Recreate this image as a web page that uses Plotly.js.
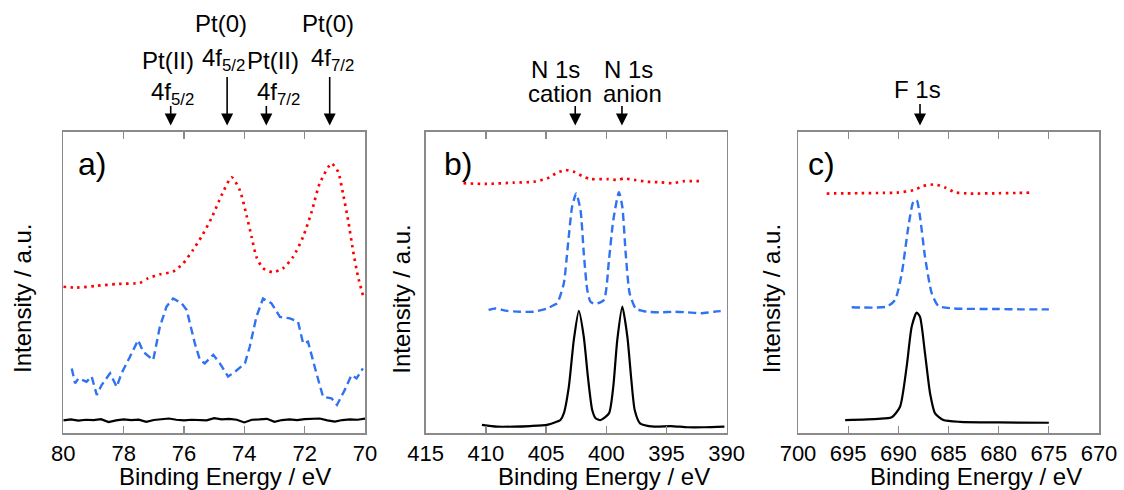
<!DOCTYPE html>
<html>
<head>
<meta charset="utf-8">
<script src="https://cdn.plot.ly/plotly-3.0.1.min.js"></script>
<style>
  html, body { margin: 0; padding: 0; background: #fff; }
  #chart { width: 1124px; height: 490px; }
</style>
</head>
<body>
<div id="chart"></div>
<script>
// ---- Pt 4f region (panel a) ----
const ptRedX = [80.0, 79.56, 78.89, 78.23, 77.46, 77.19, 76.80, 76.36, 76.03, 75.70, 75.42, 75.09, 74.75, 74.42, 74.15, 73.93, 73.76, 73.60, 73.38, 73.05, 72.72, 72.38, 72.05, 71.77, 71.50, 71.11, 70.89, 70.73, 70.56, 70.40, 70.23, 70.07];
const ptRedY = [48.6, 48.3, 48.9, 49.5, 49.9, 51.4, 52.7, 53.6, 56.3, 60.8, 65.2, 71.3, 79.0, 84.9, 80.6, 72.4, 65.2, 58.5, 54.7, 53.4, 54.7, 58.5, 65.2, 73.4, 82.9, 89.5, 86.7, 79.5, 70.7, 60.8, 51.9, 45.8];

const ptBlueX = [79.72, 79.61, 79.50, 79.23, 79.06, 78.89, 78.73, 78.45, 78.23, 78.07, 77.79, 77.52, 77.35, 77.13, 77.02, 76.80, 76.58, 76.36, 76.08, 75.91, 75.64, 75.47, 75.31, 75.03, 74.81, 74.54, 74.31, 73.98, 73.82, 73.60, 73.38, 73.10, 72.82, 72.49, 72.22, 72.05, 71.89, 71.61, 71.39, 71.11, 70.93, 70.67, 70.45, 70.28, 70.07];
const ptBlueY = [21.5, 16.6, 18.2, 17.1, 18.8, 12.7, 16.0, 19.9, 15.4, 19.9, 25.4, 30.9, 27.0, 25.4, 24.3, 35.3, 42.0, 44.7, 43.1, 40.9, 29.8, 24.3, 23.2, 26.0, 23.2, 18.8, 20.4, 23.2, 28.7, 38.6, 44.7, 43.1, 38.6, 38.1, 37.0, 29.8, 30.4, 19.9, 12.1, 11.6, 9.4, 14.4, 19.3, 18.2, 21.5];

const ptBlackX = [80, 79.75, 79.5, 79.25, 79, 78.75, 78.5, 78.25, 78, 77.75, 77.5, 77.25, 77, 76.75, 76.5, 76.25, 76, 75.75, 75.5, 75.25, 75, 74.75, 74.5, 74.25, 74, 73.75, 73.5, 73.25, 73, 72.75, 72.5, 72.25, 72, 71.75, 71.5, 71.25, 71, 70.75, 70.5, 70.25, 70];
const ptBlackY = [4.3, 4.6, 4.2, 4.5, 4.4, 4.7, 3.7, 4.3, 4.6, 4.4, 4.5, 3.8, 4.4, 4.6, 4.9, 4.5, 4.3, 4.5, 4.4, 4.3, 5.0, 4.6, 4.8, 4.5, 3.6, 4.5, 4.6, 4.8, 3.8, 4.4, 4.6, 4.4, 4.7, 4.8, 4.9, 4.3, 3.9, 4.4, 4.6, 4.5, 4.9];

// ---- N 1s region (panel b) ----
const nRedX = [411.86, 409.92, 407.69, 406.03, 404.92, 404.08, 403.39, 402.69, 402.0, 401.31, 399.92, 399.08, 398.53, 397.69, 396.58, 395.47, 394.5, 393.53, 392.14];
const nRedY = [82.9, 82.7, 83.1, 83.4, 84.5, 86.4, 87.3, 86.7, 85.3, 84.3, 84.3, 84.0, 84.5, 84.0, 83.4, 83.2, 82.9, 83.6, 83.6];

const nBlueX = [409.78, 409.22, 408.25, 407.14, 406.03, 404.92, 404.36, 404.08, 403.53, 403.2, 402.84, 402.5, 402.14, 401.87, 401.58, 401.31, 400.89, 400.2, 399.78, 399.42, 398.95, 398.67, 398.39, 398.06, 397.56, 397.0, 396.58, 395.47, 394.36, 393.25, 392.14, 391.03, 390.19];
const nBlueY = [40.9, 41.4, 40.6, 40.3, 40.3, 41.4, 42.5, 43.1, 49.7, 61.9, 75.1, 79.5, 74.0, 59.7, 47.5, 43.6, 42.9, 44.2, 57.4, 70.7, 79.9, 75.1, 59.7, 46.4, 41.4, 40.6, 40.3, 40.1, 40.3, 40.1, 39.8, 40.3, 40.6];

const nBlackX = [410.33, 409.08, 407.69, 406.31, 404.92, 404.08, 403.81, 403.53, 403.11, 402.7, 402.28, 401.87, 401.53, 401.17, 400.89, 400.47, 399.78, 399.42, 399.09, 398.67, 398.25, 397.92, 397.64, 397.2, 396.03, 394.64, 393.25, 391.86, 390.19];
const nBlackY = [2.8, 2.2, 2.2, 2.4, 2.8, 3.9, 4.4, 6.6, 15.5, 30.9, 40.6, 32.0, 18.8, 7.7, 5.0, 4.4, 6.6, 15.5, 30.9, 42.0, 32.0, 17.7, 7.7, 3.3, 2.2, 2.4, 2.0, 2.0, 2.2];

// ---- F 1s region (panel c) ----
const fRedX = [697.14, 694.0, 691.5, 690.16, 688.5, 687.51, 686.34, 685.34, 684.35, 682.85, 680.0, 678.0, 676.8];
const fRedY = [79.5, 79.6, 79.7, 79.8, 80.6, 82.0, 82.5, 81.5, 79.9, 79.5, 79.6, 79.7, 79.8];

const fBlueX = [694.65, 691.16, 690.33, 689.66, 689.0, 688.5, 688.17, 687.84, 687.34, 686.67, 686.01, 684.52, 680.0, 677.87, 675.0];
const fBlueY = [41.8, 42.0, 44.2, 53.0, 68.5, 76.8, 77.3, 71.8, 58.5, 46.4, 42.2, 41.4, 41.2, 41.1, 41.1];

const fBlackX = [695.3, 692.0, 690.66, 689.83, 689.17, 688.67, 688.17, 687.84, 687.34, 686.84, 686.34, 685.51, 683.85, 680.0, 675.0];
const fBlackY = [4.4, 4.8, 5.3, 8.8, 22.1, 35.3, 40.0, 38.6, 26.5, 13.3, 6.6, 4.4, 3.8, 3.6, 3.5];

// ---- peak markers and labels ----
const ptPeaks = [76.44, 74.57, 73.27, 71.17];
const ptArrowLen = [21, 50, 21, 50];
const nPeaks = [402.58, 398.7];
const fPeaks = [687.84];

const FONT = 'Liberation Sans, Arial, sans-serif';
const W = 1124, H = 490;
const px = v => v / W;
const py = v => 1 - v / H;

const RED = {color: '#ff0000', width: 2.7, dash: '2.5px,4.5px'};
const BLUE = {color: '#2f72f2', width: 2.4, dash: '8px,4.5px'};
const BLACK = {color: '#000000', width: 2.2};

function tr(x, y, line, xa, ya, shape) {
  return {x: x, y: y, type: 'scatter', mode: 'lines', line: Object.assign({}, line, shape ? {shape: shape, smoothing: 0.6} : {}),
          xaxis: xa, yaxis: ya, hoverinfo: 'skip', showlegend: false};
}

const data = [
  tr(ptRedX, ptRedY, RED, 'x', 'y', 'spline'),
  tr(ptBlueX, ptBlueY, BLUE, 'x', 'y'),
  tr(ptBlackX, ptBlackY, BLACK, 'x', 'y'),
  tr(nRedX, nRedY, RED, 'x2', 'y2', 'spline'),
  tr(nBlueX, nBlueY, BLUE, 'x2', 'y2', 'spline'),
  tr(nBlackX, nBlackY, BLACK, 'x2', 'y2', 'spline'),
  tr(fRedX, fRedY, RED, 'x3', 'y3', 'spline'),
  tr(fBlueX, fBlueY, BLUE, 'x3', 'y3', 'spline'),
  tr(fBlackX, fBlackY, BLACK, 'x3', 'y3', 'spline')
];

const yTop = py(131.7), yBot = py(433.3);
const frame = '#8a8a8a';
function xax(domain, range, dtick) {
  return {domain: domain, range: range, dtick: dtick, tick0: 0, ticks: 'inside', ticklen: 7, tickwidth: 1.3,
          tickcolor: frame, showline: true, linecolor: frame, linewidth: 1.5, mirror: 'ticks',
          showgrid: false, zeroline: false, fixedrange: true,
          tickfont: {family: FONT, size: 22, color: '#000'}, ticklabelstandoff: 0};
}
function yax(anchor) {
  return {domain: [yBot, yTop], range: [0, 100], anchor: anchor, showticklabels: false, ticks: '',
          showline: true, linecolor: frame, linewidth: 1.5, mirror: true,
          showgrid: false, zeroline: false, fixedrange: true};
}

const ann = [];
function txt(s, x, y, size, extra) {
  ann.push(Object.assign({text: s, x: px(x), y: py(y), xref: 'paper', yref: 'paper', showarrow: false,
    xanchor: 'center', yanchor: 'middle', font: {family: FONT, size: size, color: '#000'}}, extra || {}));
}
function arrow(xv, xref, len) {
  ann.push({text: '', x: xv, y: py(125.5), xref: xref, yref: 'paper', showarrow: true,
    ax: 0, ay: -len, arrowhead: 2, arrowsize: 1.5, arrowwidth: 1.6, arrowcolor: '#000'});
}

const LBL = 24;
// panel a labels
txt('Pt(II)', 168, 61, LBL);
txt('4f<sub>5/2</sub>', 172, 94, LBL);
txt('Pt(0)', 221, 23, LBL);
txt('4f<sub>5/2</sub>', 223, 59, LBL);
txt('Pt(II)', 273, 61, LBL);
txt('4f<sub>7/2</sub>', 278, 94, LBL);
txt('Pt(0)', 327.5, 23, LBL);
txt('4f<sub>7/2</sub>', 332, 59, LBL);
ptPeaks.forEach((p, i) => arrow(p, 'x', ptArrowLen[i]));

// panel b labels
txt('N 1s', 555, 70, LBL);
txt('cation', 560, 93, LBL);
txt('N 1s', 628, 70, LBL);
txt('anion', 632.5, 93, LBL);
nPeaks.forEach(p => arrow(p, 'x2', 21));

// panel c label
txt('F 1s', 917, 90, LBL);
fPeaks.forEach(p => arrow(p, 'x3', 23));

// panel letters
txt('a)', 76, 164, 32, {xanchor: 'left'});
txt('b)', 442, 164, 32, {xanchor: 'left'});
txt('c)', 806, 164, 32, {xanchor: 'left'});

// axis titles
[[225, 22], [604, 400.7], [975.7, 771.3]].forEach(([xt, yt]) => {
  txt('Binding Energy / eV', xt, 476, LBL);
  txt('Intensity / a.u.', yt, 299, LBL, {textangle: -90});
});

const layout = {
  width: W, height: H,
  margin: {l: 0, r: 0, t: 0, b: 0},
  paper_bgcolor: '#fff', plot_bgcolor: '#fff',
  showlegend: false,
  xaxis: Object.assign(xax([px(63.3), px(365)], [80, 70], 2), {anchor: 'y'}),
  yaxis: yax('x'),
  xaxis2: Object.assign(xax([px(425.7), px(726.7)], [415, 390], 5), {anchor: 'y2'}),
  yaxis2: yax('x2'),
  xaxis3: Object.assign(xax([px(798), px(1099)], [700, 670], 5), {anchor: 'y3'}),
  yaxis3: yax('x3'),
  annotations: ann
};

Plotly.newPlot('chart', data, layout, {staticPlot: true, displayModeBar: false});
</script>
</body>
</html>
